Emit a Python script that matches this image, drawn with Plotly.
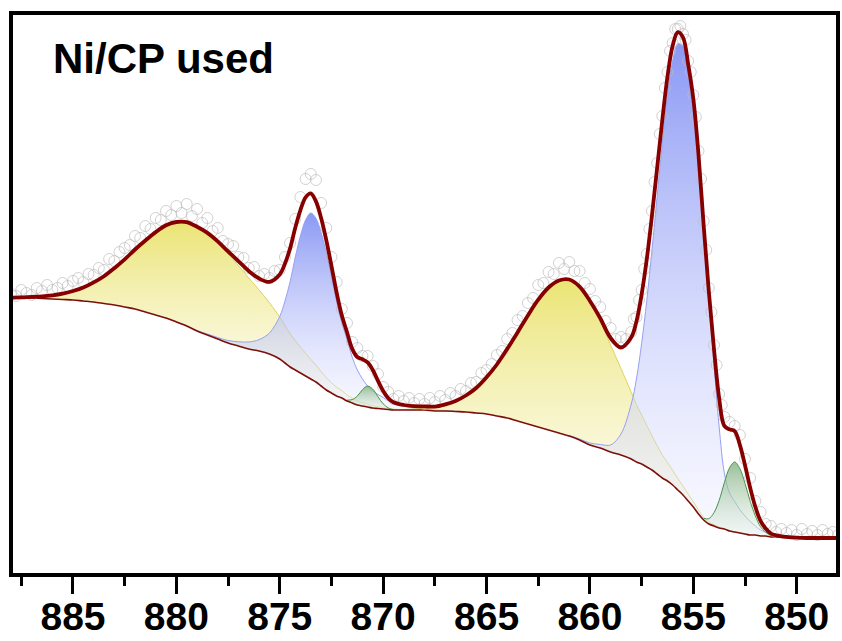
import numpy as np
import plotly.graph_objects as go

# Ni 2p spectrum of the used Ni/CP electrode (binding energy in eV, intensity in a.u.)

# Energy grid of the fitted curves
binding_energy = [
    888.0, 887.5, 887.0, 886.5, 886.0, 885.5, 885.0, 884.5, 884.0, 883.5, 883.0, 882.5, 882.0,
    881.5, 881.0, 880.5, 880.0, 879.5, 879.0, 878.5, 878.0, 877.5, 877.0, 876.5, 876.0, 875.5,
    875.0, 874.75, 874.5, 874.25, 874.0, 873.75, 873.5, 873.25, 873.0, 872.75, 872.5, 872.25,
    872.0, 871.75, 871.5, 871.25, 871.0, 870.75, 870.5, 870.25, 870.0, 869.75, 869.5,
    869.0, 868.5, 868.0, 867.5, 867.0, 866.5, 866.0, 865.5, 865.0, 864.5, 864.0, 863.5, 863.0,
    862.5, 862.0, 861.5, 861.0, 860.5, 860.0, 859.5, 859.0, 858.5, 858.0,
    857.75, 857.5, 857.25, 857.0, 856.75, 856.5, 856.25, 856.0, 855.75, 855.5, 855.25, 855.0,
    854.75, 854.5, 854.25, 854.0, 853.75, 853.5, 853.25, 853.0, 852.75, 852.5, 852.25, 852.0,
    851.75, 851.5, 851.25, 851.0,
    850.5, 850.0, 849.5, 849.0, 848.5, 848.0,
]

# Shirley background
background = [
    277, 277, 277, 276.5, 276, 275.5, 275, 274, 273, 271.5, 270, 268, 266,
    263, 260, 257, 253, 249, 244, 240, 236, 232, 229, 226, 224, 221,
    216, 212, 208, 205, 202, 199, 196, 193, 189, 185, 182, 179,
    177, 174, 172, 170, 169, 168, 167, 166.5, 166, 165.5, 165,
    165, 165, 165, 164, 164, 163.5, 163, 162, 161, 159, 157, 154, 151,
    148, 145, 142, 139, 135, 130, 127, 123, 120, 116,
    113, 111, 108, 105, 101, 97, 94, 90, 85, 80, 74, 68,
    61, 55, 51, 49, 47, 46, 44, 43, 42, 41, 40, 40,
    39, 39, 38, 38,
    37.5, 37, 37, 37, 37, 37,
]

# Fitted components: first binding energy of each and its height above the background
sat_2p12_start = 888.0
sat_2p12 = [
    0.4, 0.7, 1.2, 2.1, 3.6, 5.8, 9.0, 13.5, 19.6, 27.3, 36.8, 47.6, 59.5,
    71.5, 82.9, 92.7, 99.8, 103.5, 103.7, 101.1, 96.1, 89.1, 80.6, 71.0, 61.1, 51.2,
    41.9, 37.5, 33.4, 29.5, 25.9, 22.7, 19.6, 16.9, 14.5, 12.4, 10.5, 8.8,
    7.4, 6.1, 5.0, 4.1, 3.4, 2.7, 2.2, 1.8, 1.4, 1.1, 0.9,
    0.5, 0.3, 0.2,
]
ni2p12_start = 880.0
ni2p12 = [
    0.2, 0.3, 0.5, 1.0, 1.5, 2.5, 4.3, 7.0, 11.4, 20.9,
    42.6, 61.8, 85.2, 112.7, 137, 156, 166, 163.7, 153.5, 137.4, 116.7, 94.7,
    75.3, 62, 46, 35, 27, 21, 17, 14, 11.5, 8.5, 6.5,
    4.0, 2.5, 1.6, 1.0, 0.6, 0.4, 0.2,
]
ni0_2p12_start = 871.75
ni0_2p12 = [0.9, 3.4, 8.9, 16.3, 20.9, 18.8, 11.8, 5.2, 1.6, 0.4]

sat_2p32_start = 869.0
sat_2p32 = [
    0.5, 1.0, 1.9, 3.4, 6.0, 10.1, 16.3, 25.0, 36.7, 51.5, 69.1, 88.6, 108.6,
    127.3, 142.5, 152.5, 156, 152.4, 142, 126.2, 107, 86.5, 66.7,
    57.6, 49.1, 41.4, 34.5, 28.4, 23.1, 18.6, 14.8, 11.6, 9.0, 6.9, 5.2,
    3.9, 2.9, 2.1, 1.5, 1.1, 0.8, 0.5, 0.35, 0.25, 0.15, 0.1,
]
ni2p32_start = 861.0
ni2p32 = [
    0.5, 1.0, 2.0, 3.5, 7.0, 21, 55,
    83, 120.5, 166.5, 220, 277.6, 334.8, 385.7, 424.4, 446.3, 448.7, 430, 403,
    355.5, 290, 225, 162, 101, 56, 38, 30.6, 23.4, 18, 13.5, 9.0,
    5.9, 3.6, 2.2, 1.3,
    0.6, 0.3,
]
ni0_2p32_start = 854.5
ni0_2p32 = [1.7, 5.3, 13.4, 27.6, 46.3, 63.1, 70, 64.5, 50.6, 33.7, 19.1, 9.2, 3.8, 1.3, 0.4]

# Measured spectrum (scan energies and counts)
scan_energy = [
    888.0, 887.75, 887.5, 887.25, 887.0, 886.75, 886.5, 886.25, 886.0, 885.75,
    885.5, 885.25, 885.0, 884.75, 884.5, 884.25, 884.0, 883.75, 883.5, 883.25,
    883.0, 882.75, 882.5, 882.25, 882.0, 881.75, 881.5, 881.25, 881.0, 880.75,
    880.5, 880.25, 880.0, 879.75, 879.5, 879.25, 879.0, 878.75, 878.5, 878.25,
    878.0, 877.75, 877.5, 877.25, 877.0, 876.75, 876.5, 876.25, 876.0, 875.75,
    875.5, 875.25, 875.0, 874.75, 874.5, 874.25, 874.0, 873.75, 873.5, 873.25,
    873.0, 872.75, 872.5, 872.25, 872.0, 871.75, 871.5, 871.25, 871.0, 870.75,
    870.5, 870.25, 870.0, 869.75, 869.5, 869.25, 869.0, 868.75, 868.5, 868.25,
    868.0, 867.75, 867.5, 867.25, 867.0, 866.75, 866.5, 866.25, 866.0, 865.75,
    865.5, 865.25, 865.0, 864.75, 864.5, 864.25, 864.0, 863.75, 863.5, 863.25,
    863.0, 862.75, 862.5, 862.25, 862.0, 861.75, 861.5, 861.25, 861.0, 860.75,
    860.5, 860.25, 860.0, 859.75, 859.5, 859.25, 859.0, 858.75, 858.5, 858.25,
    858.0, 857.875, 857.75, 857.625, 857.5, 857.375, 857.25, 857.125, 857.0, 856.875,
    856.75, 856.625, 856.5, 856.375, 856.25, 856.125, 856.0, 855.875, 855.75, 855.625,
    855.5, 855.375, 855.25, 855.125, 855.0, 854.875, 854.75, 854.625, 854.5, 854.375,
    854.25, 854.125, 854.0, 853.875, 853.75, 853.625, 853.5,
    853.25, 853.0, 852.75, 852.5, 852.25, 852.0, 851.75, 851.5, 851.25, 851.0,
    850.75, 850.5, 850.25, 850.0, 849.75, 849.5, 849.25, 849.0, 848.75, 848.5,
    848.25, 848.0,
]
counts = [
    281, 279, 285, 282, 280, 287, 284, 290, 285, 287,
    292, 289, 294, 297, 293, 301, 300, 307, 305, 316,
    314, 323, 327, 330, 339, 337, 349, 346, 357, 355,
    364, 360, 369, 362, 371, 359, 366, 352, 357, 344,
    347, 334, 331, 329, 318, 317, 307, 308, 299, 301,
    297, 304, 305, 318, 332, 356, 378, 396, 401, 395,
    372, 347, 318, 293, 266, 252, 233, 227, 219, 219,
    209, 201, 188, 183, 176, 179, 174, 177, 172, 176,
    171, 177, 173, 179, 175, 182, 179, 186, 184, 192,
    193, 202, 205, 211, 220, 224, 236, 242, 255, 259,
    272, 277, 290, 292, 303, 301, 312, 306, 313, 304,
    304, 292, 286, 274, 268, 254, 247, 236, 238, 236,
    243, 256, 258, 275, 285, 306, 321, 346, 364, 393,
    412, 441, 459, 487, 503, 524, 532, 546, 546, 549,
    541, 535, 514, 503, 480, 458, 424, 396, 354, 325,
    287, 263, 230, 210, 181, 170, 158,
    153, 149, 140, 116, 97, 74, 63, 51, 49, 43,
    46, 42, 45, 40, 46, 41, 44, 40, 45, 41,
    43, 40,
]

x_ticks = [885, 880, 875, 870, 865, 860, 855, 850]
x_minor_ticks = [887.5, 882.5, 877.5, 872.5, 867.5, 862.5, 857.5, 852.5]

E = np.array(binding_energy, dtype=float)
bg = np.array(background, dtype=float)


def place(start, heights):
    """Put a component's heights onto the shared energy grid."""
    i = int(np.argmin(np.abs(E - start)))
    h = np.zeros_like(E)
    h[i:i + len(heights)] = heights
    return slice(i, i + len(heights)), h


YELLOW = dict(line="rgb(222,212,90)",
              scale=[[0.0, "rgba(250,248,222,0.35)"], [1.0, "rgba(232,225,100,0.9)"]])
BLUE = dict(line="rgb(150,160,242)",
            scale=[[0.0, "rgba(236,238,255,0.35)"], [1.0, "rgba(118,134,242,0.85)"]])
GREEN = dict(line="rgb(70,150,70)",
             scale=[[0.0, "rgba(236,245,236,0.4)"], [1.0, "rgba(120,170,120,0.75)"]])

components = [
    (sat_2p12_start, sat_2p12, YELLOW),
    (ni2p12_start, ni2p12, BLUE),
    (ni0_2p12_start, ni0_2p12, GREEN),
    (sat_2p32_start, sat_2p32, YELLOW),
    (ni2p32_start, ni2p32, BLUE),
    (ni0_2p32_start, ni0_2p32, GREEN),
]

fig = go.Figure()
envelope = bg.copy()
for start, heights, style in components:
    sl, h = place(start, heights)
    envelope += h
    fig.add_trace(go.Scatter(
        x=E[sl], y=bg[sl], mode="lines", line=dict(width=0, shape="spline"),
        hoverinfo="skip", showlegend=False))
    fig.add_trace(go.Scatter(
        x=E[sl], y=bg[sl] + h[sl], mode="lines",
        line=dict(color=style["line"], width=1, shape="spline"),
        fill="tonexty",
        fillgradient=dict(type="vertical", colorscale=style["scale"]),
        showlegend=False))

# background line
fig.add_trace(go.Scatter(x=E, y=bg, mode="lines",
                         line=dict(color="rgb(125,15,10)", width=1.6, shape="spline"),
                         showlegend=False))
# raw data
fig.add_trace(go.Scatter(x=scan_energy, y=counts, mode="markers",
                         marker=dict(symbol="circle-open", size=11,
                                     color="rgba(190,190,190,0.7)", line=dict(width=1)),
                         showlegend=False))
# cumulative fit
fig.add_trace(go.Scatter(x=E, y=envelope, mode="lines",
                         line=dict(color="rgb(135,0,0)", width=3.8, shape="spline"),
                         showlegend=False))

fig.add_annotation(text="<b>Ni/CP used</b>", xref="paper", yref="paper",
                   x=0.046, y=0.967, xanchor="left", yanchor="top", showarrow=False,
                   font=dict(family="Liberation Sans", size=42, color="black"))

fig.update_layout(
    width=842, height=641,
    margin=dict(l=13, r=6, t=15, b=68),
    paper_bgcolor="white", plot_bgcolor="white",
    showlegend=False,
    xaxis=dict(
        range=[887.9, 848.1], tickmode="array", tickvals=x_ticks, automargin=False,
        ticks="outside", ticklen=17, tickwidth=3, tickcolor="black",
        ticklabelstandoff=-11,
        minor=dict(ticks="outside", ticklen=9, tickwidth=3, tickcolor="black",
                   tickmode="array", tickvals=x_minor_ticks),
        showline=True, mirror=True, linewidth=4, linecolor="black",
        showgrid=False, zeroline=False,
        tickfont=dict(family="Liberation Sans", size=39, color="black", weight="bold"),
    ),
    yaxis=dict(
        range=[2, 560], showticklabels=False, ticks="", automargin=False,
        showline=True, mirror=True, linewidth=4, linecolor="black",
        showgrid=False, zeroline=False,
    ),
)

fig.write_html("out.html")
